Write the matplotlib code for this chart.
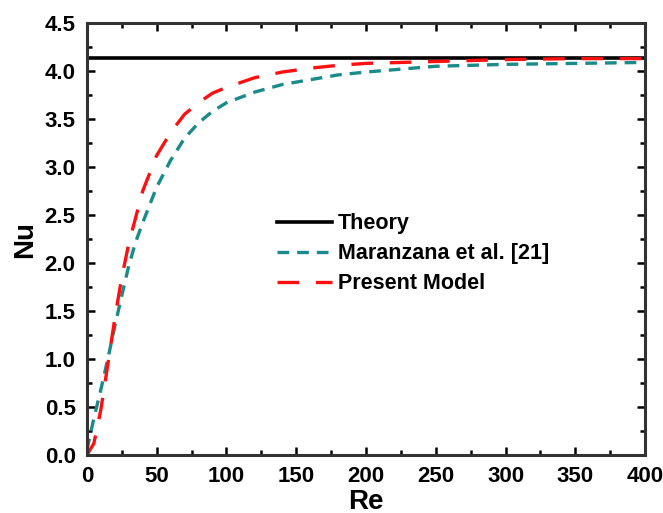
import matplotlib
matplotlib.use("Agg")
import matplotlib.pyplot as plt
from matplotlib.ticker import MultipleLocator

plt.rcParams['font.family'] = ['Liberation Sans', 'DejaVu Sans']
plt.rcParams['font.weight'] = 'bold'

# theory value
theory_nu = 4.14

# Maranzana et al. [21]
re_mar = [0, 5, 10, 15, 20, 25, 30, 35, 40, 50, 60, 70, 80, 90, 100, 120, 140, 160, 180, 200, 250, 300, 350, 400]
nu_mar = [0.05, 0.38, 0.68, 1.0, 1.34, 1.66, 1.97, 2.22, 2.42, 2.79, 3.07, 3.30, 3.46, 3.58, 3.67, 3.78, 3.86, 3.91, 3.96, 3.99, 4.05, 4.07, 4.08, 4.09]

# present model
re_pm = [0, 5, 10, 15, 20, 25, 30, 40, 50, 60, 70, 80, 90, 100, 120, 140, 160, 180, 200, 250, 300, 350, 400]
nu_pm = [0.0, 0.12, 0.47, 0.94, 1.42, 1.85, 2.2, 2.75, 3.12, 3.36, 3.55, 3.67, 3.77, 3.83, 3.93, 3.99, 4.03, 4.06, 4.08, 4.10, 4.12, 4.13, 4.13]

fig = plt.figure(figsize=(6.63, 5.13), dpi=100)
ax = fig.add_axes([0.131, 0.113, 0.842, 0.842])

ax.axhline(theory_nu, color='black', lw=2.6, label='Theory')
ax.plot(re_mar, nu_mar, color='#1a8a8a', lw=2.4, dashes=(3.5, 2.4), label='Maranzana et al. [21]')
ax.plot(re_pm, nu_pm, color='#ff1010', lw=2.4, dashes=(6.5, 5), label='Present Model')

ax.set_xlim(0, 400)
ax.set_ylim(0, 4.5)
ax.xaxis.set_major_locator(MultipleLocator(50))
ax.xaxis.set_minor_locator(MultipleLocator(25))
ax.yaxis.set_major_locator(MultipleLocator(0.5))
ax.yaxis.set_minor_locator(MultipleLocator(0.25))
ax.yaxis.set_major_formatter(plt.FormatStrFormatter('%.1f'))

for s in ax.spines.values():
    s.set_linewidth(2.2)
    s.set_color('#333333')
ax.tick_params(which='both', direction='in', top=True, right=True, width=1.8, labelsize=16)
ax.tick_params(which='major', length=6, pad=8)
ax.tick_params(which='minor', length=3.5)

ax.set_xlabel('Re', fontsize=20, fontweight='bold', labelpad=1)
ax.set_ylabel('Nu', fontsize=20, fontweight='bold', labelpad=5)

leg = ax.legend(loc='upper left', bbox_to_anchor=(0.326, 0.58), borderaxespad=0, frameon=False,
                fontsize=15.5, handlelength=2.55, handletextpad=0.25, labelspacing=0.42)

fig.savefig('out.png', dpi=100)
